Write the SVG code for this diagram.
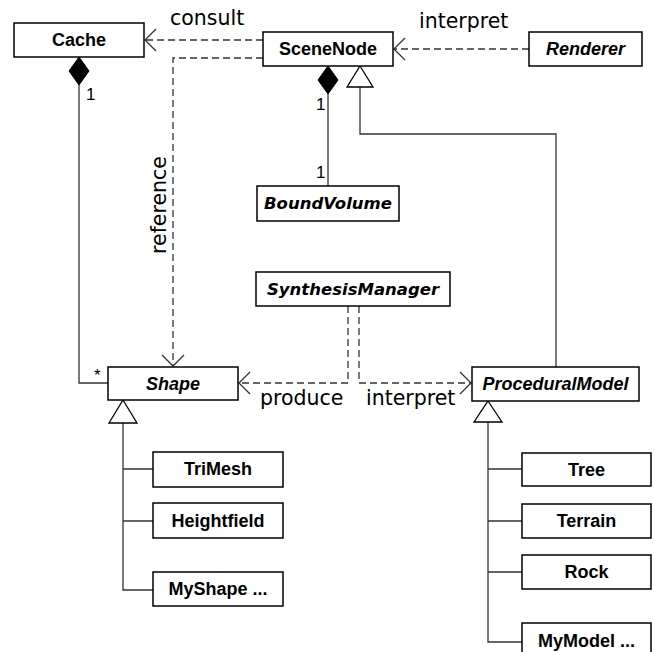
<svg xmlns="http://www.w3.org/2000/svg" width="654" height="652" viewBox="0 0 654 652">
<defs>
<style>
.box{fill:#fff;stroke:#000;stroke-width:1.5}
.lbl{font-family:"Liberation Sans",Arial,sans-serif;font-weight:bold;font-size:18px;text-anchor:middle;fill:#000}
.it{font-style:italic}
.dv{font-family:"DejaVu Sans",sans-serif;font-size:16.5px}
.dash{fill:none;stroke:#333;stroke-width:1.3;stroke-dasharray:7,4}
.solid{fill:none;stroke:#333;stroke-width:1.3}
.tri{fill:#fff;stroke:#000;stroke-width:1.3}
.dia{fill:#000;stroke:#000;stroke-width:1}
.rel{font-family:"DejaVu Sans",sans-serif;font-size:20.5px;fill:#000}
.mult{font-family:"Liberation Sans",Arial,sans-serif;font-size:17px;fill:#000}
</style>
<marker id="open" markerUnits="userSpaceOnUse" markerWidth="24" markerHeight="26" viewBox="-13 -13 15 26" refX="0" refY="0" orient="auto">
<path d="M-11,-11 L0,0 L-11,11" fill="none" stroke="#333" stroke-width="1.3"/>
</marker>
</defs>
<g id="connectors">
<path class="dash" d="M263,40 H145" marker-end="url(#open)"/>
<path class="dash" d="M529,49 H394" marker-end="url(#open)"/>
<path class="dash" d="M263,58 H173 V366" marker-end="url(#open)"/>
<path class="dash" d="M348,306 V383 H239" marker-end="url(#open)"/>
<path class="dash" d="M359,306 V383 H471" marker-end="url(#open)"/>
<path class="solid" d="M79,85 V383 H108"/>
<polygon class="dia" points="79,57 89,71 79,85 69,71"/>
<path class="solid" d="M328,94 V186"/>
<polygon class="dia" points="328,66 338,80 328,94 318,80"/>
<path class="solid" d="M360,87 V134 H556 V367"/>
<polygon class="tri" points="360,66 373,87 347,87"/>
<path class="solid" d="M123,423 V590 H153 M123,469 H153 M123,521 H153"/>
<polygon class="tri" points="123,400 137,423 109,423"/>
<path class="solid" d="M488,422 V642 H522 M488,469 H522 M488,521 H522 M488,572 H522"/>
<polygon class="tri" points="488,401 502,422 474,422"/>
<text class="rel" x="170" y="25">consult</text>
<text class="rel" x="419" y="28">interpret</text>
<text class="rel" x="260" y="405">produce</text>
<text class="rel" x="366" y="405">interpret</text>
<text class="rel" x="166" y="205" text-anchor="middle" transform="rotate(-90 166 205)">reference</text>
<text class="mult" x="86" y="100">1</text>
<text class="mult" x="316" y="110">1</text>
<text class="mult" x="316" y="178">1</text>
<text class="mult" x="94" y="381">*</text>
</g>
<g id="Cache"><rect class="box" x="14" y="23" width="130" height="34"/><text class="lbl" x="79" y="46">Cache</text></g>
<g id="SceneNode"><rect class="box" x="263" y="32" width="130" height="34"/><text class="lbl" x="328" y="55">SceneNode</text></g>
<g id="Renderer"><rect class="box" x="529" y="32" width="113" height="34"/><text class="lbl it" x="585.5" y="55">Renderer</text></g>
<g id="BoundVolume"><rect class="box" x="257" y="186" width="142" height="35"/><text class="lbl it dv" x="328" y="209">BoundVolume</text></g>
<g id="SynthesisManager"><rect class="box" x="256" y="272" width="194" height="34"/><text class="lbl it dv" x="353" y="295">SynthesisManager</text></g>
<g id="Shape"><rect class="box" x="108" y="367" width="130" height="33"/><text class="lbl it" x="173" y="390">Shape</text></g>
<g id="ProceduralModel"><rect class="box" x="472" y="367" width="167" height="34"/><text class="lbl it" x="555.5" y="390">ProceduralModel</text></g>
<g id="TriMesh"><rect class="box" x="153" y="452" width="130" height="35"/><text class="lbl" x="218" y="475">TriMesh</text></g>
<g id="Heightfield"><rect class="box" x="153" y="503" width="130" height="35"/><text class="lbl" x="218" y="527">Heightfield</text></g>
<g id="MyShape"><rect class="box" x="153" y="572" width="130" height="34"/><text class="lbl" x="218" y="595">MyShape ...</text></g>
<g id="Tree"><rect class="box" x="522" y="453" width="129" height="33"/><text class="lbl" x="586.5" y="476">Tree</text></g>
<g id="Terrain"><rect class="box" x="522" y="504" width="129" height="34"/><text class="lbl" x="586.5" y="527">Terrain</text></g>
<g id="Rock"><rect class="box" x="522" y="555" width="129" height="34"/><text class="lbl" x="586.5" y="578">Rock</text></g>
<g id="MyModel"><rect class="box" x="522" y="623" width="129" height="36"/><text class="lbl" x="586.5" y="647">MyModel ...</text></g>
</svg>
